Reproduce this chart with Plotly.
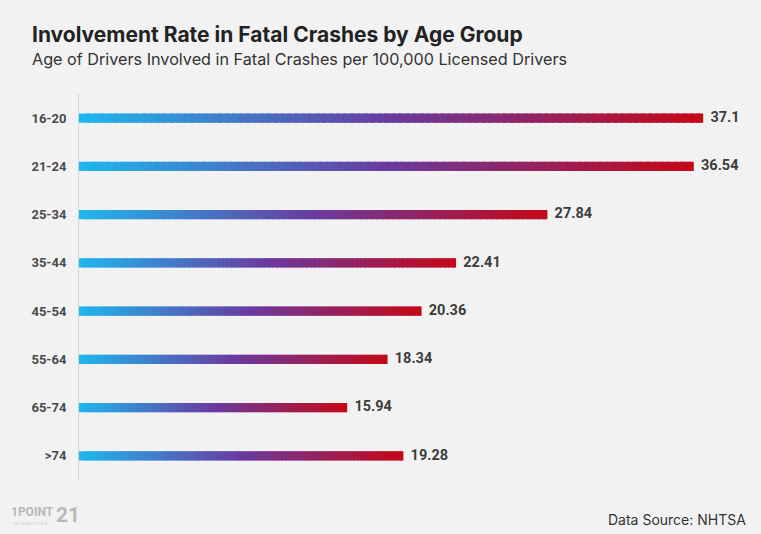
import plotly.graph_objects as go
import numpy as np

categories = ["16-20", "21-24", "25-34", "35-44", "45-54", "55-64", "65-74", ">74"]
values = [37.1, 36.54, 27.84, 22.41, 20.36, 18.34, 15.94, 19.28]
labels = ["37.1", "36.54", "27.84", "22.41", "20.36", "18.34", "15.94", "19.28"]

stops = [(0.0, (30, 182, 238)), (0.5, (106, 58, 160)), (1.0, (196, 8, 24))]

def grad(t):
    for (t0, c0), (t1, c1) in zip(stops[:-1], stops[1:]):
        if t0 <= t <= t1:
            f = (t - t0) / (t1 - t0)
            return "rgb(%d,%d,%d)" % tuple(round(a + (b - a) * f) for a, b in zip(c0, c1))
    return "rgb(%d,%d,%d)" % stops[-1][1]

W, H = 761, 534
ML, MR, MT, MB = 79, 9, 94, 54
PW, PH = W - ML - MR, H - MT - MB

def px(x):
    return (x - ML) / PW

def py(y):
    return (H - MB - y) / PH

N = 90
vals = np.array(values)
fig = go.Figure()
for k in range(N):
    seg = vals / N * (1.7 if k < N - 1 else 1.0)
    fig.add_trace(go.Bar(
        y=categories, x=seg, base=vals * k / N,
        orientation="h", width=0.19, marker=dict(color=grad(k / (N - 1)), line=dict(width=0)),
        hoverinfo="skip", showlegend=False))

fig.add_trace(go.Scatter(
    y=categories, x=values, mode="text", text=["  " + s for s in labels],
    textposition="middle right",
    textfont=dict(family="Roboto", size=14.5, color="#3d3d3d", weight="bold"),
    showlegend=False, cliponaxis=False, hoverinfo="skip"))

fig.update_layout(
    width=W, height=H, paper_bgcolor="#f2f2f2", plot_bgcolor="#f2f2f2",
    margin=dict(l=ML, r=MR, t=MT, b=MB), barmode="overlay",
    xaxis=dict(range=[0, 40], visible=False, fixedrange=True),
    yaxis=dict(categoryorder="array", categoryarray=categories[::-1], showgrid=False,
               showline=True, linecolor="#d4d4d4", linewidth=1, ticks="",
               ticklabelstandoff=9,
               tickfont=dict(family="Roboto", size=13, color="#4a4a4a", weight="bold")),
    annotations=[
        dict(text="<b>Involvement Rate in Fatal Crashes by Age Group</b>", x=px(30), y=py(35),
             xref="paper", yref="paper", xanchor="left", yanchor="middle", showarrow=False,
             font=dict(family="Inter", size=21, color="#222")),
        dict(text="Age of Drivers Involved in Fatal Crashes per 100,000 Licensed Drivers",
             x=px(30), y=py(59), xref="paper", yref="paper", xanchor="left", yanchor="middle",
             showarrow=False, font=dict(family="Inter", size=16.2, color="#333")),
        dict(text="Data Source: NHTSA", x=px(748), y=py(519), xref="paper", yref="paper",
             xanchor="right", yanchor="middle", showarrow=False,
             font=dict(family="Inter", size=14, color="#333")),
        dict(text="<b>1POINT</b>", x=px(9), y=py(512), xref="paper", yref="paper",
             xanchor="left", yanchor="middle", showarrow=False,
             font=dict(family="Roboto", size=12, color="#b8b8b8")),
        dict(text="<b>21</b>", x=px(54), y=py(515), xref="paper", yref="paper",
             xanchor="left", yanchor="middle", showarrow=False,
             font=dict(family="Roboto", size=21, color="#b8b8b8")),
        dict(text="I N T E R A C T I V E", x=px(11), y=py(523), xref="paper", yref="paper",
             xanchor="left", yanchor="middle", showarrow=False,
             font=dict(family="Roboto", size=4, color="#c4c4c4")),
    ],
)
fig.write_html("out.html")
